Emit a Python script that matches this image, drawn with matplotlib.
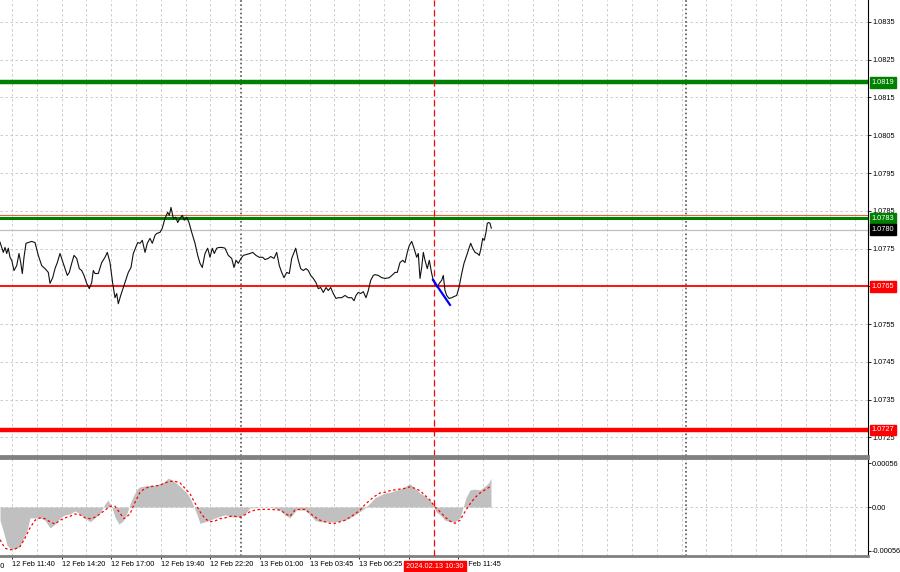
import numpy as np
import matplotlib.pyplot as plt
from matplotlib import transforms

# Pozycje na osi czasu (kolumny wykresu, dzien 13 Feb zaczyna sie w 241) i ceny EURUSD
price_x = [0, 3.3, 5, 6.7, 8.3, 10, 11.7, 14, 16.7, 19, 20.7, 22.3, 24, 26, 28.3, 31.7, 35,
           38.3, 41.7, 45, 48.3, 50, 52.7, 55, 57.3, 60, 62.3, 65, 67.3, 69.3, 71.7, 74, 76.7,
           79.3, 81.7, 84, 86.7, 89.3, 91.7, 93.3, 95, 98.3, 101.7, 105, 107.3, 110, 112.7,
           115, 116.7, 118.3, 120.7, 123.3, 125, 128.3, 131, 133.3, 135.7, 137.7, 140, 142.3,
           145, 147.3, 150, 152.3, 155, 156.7, 160, 162.3, 165, 167.7, 169.3, 171, 173.3,
           175.7, 177.7, 180, 182.3, 184.3, 186.7, 189, 191.7, 195, 197.7, 200, 202.3, 205,
           207.7, 210, 212.3, 214.3, 216.7, 219, 222.3, 225, 228.3, 231.7, 234, 236, 238.3,
           241, 243.3, 250, 252.7, 256, 259.3, 262.7, 265, 268.3, 270.7, 274, 276.7, 279.3,
           281.7, 284, 286.7, 289.3, 291.7, 294, 295.7, 298.3, 300.7, 303.3, 306, 308.3,
           310.7, 313.3, 316, 318.3, 320.7, 323.3, 326, 328.3, 330.7, 333.3, 336, 338.3,
           341.7, 345, 348.3, 351.7, 354, 356, 358.3, 360.7, 363.3, 366, 368.3, 370.7, 373.3,
           375, 378.3, 381.7, 385, 389.3, 392.7, 395, 397.3, 400, 402.7, 405, 407.3, 409.3,
           411.7, 414, 416.7, 418.3, 420, 421.7, 423.3, 425, 427.3, 429.3, 431.7, 433.3, 435,
           437.3, 439.3, 441.7, 443.3, 445, 446.7, 449, 451.7, 454, 456.7, 459, 461.7, 464,
           466.7, 469, 470.7, 472.7, 475, 477.3, 479.3, 481, 482.7, 484.3, 486, 487.3, 488.7,
           490, 491.3]
price = [1.07767, 1.0774, 1.07753, 1.07737, 1.07751, 1.07727, 1.07719, 1.07692, 1.07705,
         1.07737, 1.07713, 1.07684, 1.07727, 1.07764, 1.07766, 1.07769, 1.07766, 1.07732,
         1.07705, 1.07697, 1.07687, 1.07658, 1.07673, 1.07697, 1.07713, 1.07737, 1.07719,
         1.07697, 1.07679, 1.07687, 1.07711, 1.07732, 1.07724, 1.07697, 1.07692, 1.07679,
         1.07658, 1.07644, 1.0766, 1.07692, 1.07684, 1.07684, 1.07713, 1.07727, 1.0774,
         1.07713, 1.07658, 1.0762, 1.07631, 1.07604, 1.07626, 1.07647, 1.0766, 1.07687,
         1.077, 1.07737, 1.07753, 1.07766, 1.07764, 1.07772, 1.0774, 1.07764, 1.07777,
         1.07764, 1.07785, 1.0779, 1.07793, 1.07804, 1.0783, 1.07846, 1.07838, 1.07859,
         1.0783, 1.07833, 1.07819, 1.0783, 1.07838, 1.07825, 1.07833, 1.07819, 1.07793,
         1.07764, 1.07732, 1.07711, 1.077, 1.07737, 1.07751, 1.07727, 1.07751, 1.07737,
         1.07751, 1.07753, 1.07753, 1.07751, 1.07732, 1.07724, 1.077, 1.07719, 1.07711,
         1.07724, 1.07732, 1.07737, 1.0774, 1.07732, 1.07727, 1.07727, 1.07721, 1.07724,
         1.07729, 1.07724, 1.0774, 1.07705, 1.07687, 1.07673, 1.07687, 1.07684, 1.07724,
         1.0774, 1.07751, 1.07719, 1.07697, 1.07692, 1.07697, 1.07692, 1.07679, 1.07671,
         1.0766, 1.07644, 1.07647, 1.07634, 1.07647, 1.07639, 1.07647, 1.07631, 1.07618,
         1.0762, 1.0762, 1.07626, 1.0762, 1.0762, 1.07612, 1.07626, 1.07634, 1.07631,
         1.07636, 1.0762, 1.07639, 1.07666, 1.07679, 1.07681, 1.07679, 1.07673, 1.07671,
         1.07673, 1.07681, 1.07687, 1.07687, 1.07713, 1.07719, 1.07713, 1.0774, 1.07758,
         1.07769, 1.07751, 1.07727, 1.07737, 1.07671, 1.077, 1.0774, 1.07719, 1.07697,
         1.07719, 1.07684, 1.07666, 1.07658, 1.07647, 1.07658, 1.07666, 1.07679, 1.07639,
         1.07626, 1.07618, 1.0762, 1.07623, 1.07626, 1.07647, 1.07684, 1.07711, 1.07732,
         1.07751, 1.07764, 1.07751, 1.0774, 1.07737, 1.07732, 1.07751, 1.07777, 1.07772,
         1.07793, 1.07817, 1.07819, 1.07817, 1.07804]

# MACD: histogram i linia sygnalu
hist_x = [0, 3, 7, 10, 13, 17, 20, 23, 27, 30, 35, 40, 45, 50, 55, 60, 65, 70, 75, 80, 85,
          90, 95, 100, 105, 108, 112, 115, 119, 123, 127, 130, 133, 137, 140, 145, 150, 155,
          160, 165, 168, 172, 177, 182, 187, 191, 194, 197, 200, 205, 210, 215, 220, 225,
          230, 235, 240, 245, 250, 255, 260, 265, 270, 280, 285, 290, 293, 297, 300, 305,
          310, 315, 320, 325, 330, 335, 340, 345, 350, 355, 360, 365, 370, 375, 380, 385,
          390, 395, 400, 405, 410, 413, 417, 420, 425, 430, 433, 436, 440, 445, 450, 455,
          460, 463, 466, 470, 475, 480, 484, 488, 491]
macd_hist = [-0.00017, -0.0003, -0.00049, -0.00053, -0.00054, -0.00053, -0.0005, -0.00042,
             -0.0003, -0.00014, -0.00014, -0.00014, -0.00017, -0.00027, -0.00022, -0.00014,
             -0.0001, -0.00009, -0.00005, -0.00009, -0.00014, -0.00019, -0.00014, -0.00008,
             0.00004, 0.00009, -0.00001, -0.00013, -0.00022, -0.00018, -0.00008, 0.00004,
             0.00013, 0.00023, 0.00026, 0.00027, 0.00028, 0.00028, 0.0003, 0.00033, 0.00037,
             0.00035, 0.0003, 0.00024, 0.00018, 0.00009, 0.0, -0.0001, -0.00021, -0.00019,
             -0.00017, -0.00014, -0.00012, -0.0001, -0.00012, -0.00013, -0.00012, -0.00009,
             -0.00001, -0.00001, 0.0, 0.0, 0.0, -0.00004, -0.0001, -0.00014, -0.00009,
             -0.00003, -0.00004, -0.00004, -0.0001, -0.00017, -0.00019, -0.00019, -0.00019,
             -0.00019, -0.00018, -0.00017, -0.00014, -0.0001, -0.00006, -0.00001, 0.00005,
             0.00012, 0.00015, 0.00018, 0.00019, 0.00021, 0.00023, 0.00026, 0.0003, 0.00026,
             0.00022, 0.00018, 0.00014, 0.00009, 0.00003, -0.00006, -0.0001, -0.00017,
             -0.00019, -0.00019, -0.00014, -0.00001, 0.00012, 0.00022, 0.00023, 0.00022,
             0.00026, 0.0003, 0.00037]
sig_x = [0, 5, 10, 15, 20, 25, 30, 35, 40, 45, 50, 55, 60, 65, 70, 75, 80, 85, 90, 95, 100,
         105, 110, 115, 120, 124, 130, 135, 140, 145, 150, 155, 160, 165, 170, 175, 180, 185,
         190, 195, 200, 205, 210, 215, 220, 225, 230, 235, 240, 245, 250, 255, 260, 270, 280,
         285, 290, 295, 300, 305, 310, 315, 320, 325, 330, 335, 340, 345, 350, 355, 360, 365,
         370, 375, 380, 385, 390, 395, 400, 405, 410, 415, 420, 425, 430, 435, 440, 445, 450,
         455, 460, 465, 470, 475, 480, 485, 490]
macd_signal = [-0.00042, -0.00053, -0.00055, -0.00054, -0.00051, -0.0004, -0.00027, -0.00017,
               -0.00014, -0.00015, -0.00019, -0.00022, -0.00017, -0.00014, -0.00012, -0.00009,
               -0.0001, -0.00014, -0.00015, -0.00013, -0.00009, -0.00004, 0.00001, 0.00001,
               -0.00008, -0.00015, -0.00009, 0.00006, 0.00019, 0.00024, 0.00026, 0.00027,
               0.00028, 0.00031, 0.00033, 0.00033, 0.00031, 0.00024, 0.00017, 0.00005,
               -0.00006, -0.00015, -0.00019, -0.00018, -0.00015, -0.00014, -0.00012, -0.00012,
               -0.00013, -0.0001, -0.00006, -0.00004, -0.00003, -0.00003, -0.00004, -0.00008,
               -0.00012, -0.00004, -0.00003, -0.00003, -0.00008, -0.00013, -0.00017, -0.00019,
               -0.00021, -0.00021, -0.00019, -0.00017, -0.00013, -0.00009, -0.00004, 0.00003,
               0.00009, 0.00014, 0.00018, 0.00019, 0.00021, 0.00022, 0.00023, 0.00024, 0.00026,
               0.00024, 0.00021, 0.00015, 0.00009, 0.0, -0.00006, -0.00013, -0.00018, -0.00021,
               -0.00017, -0.00006, 0.00004, 0.00012, 0.00018, 0.00022, 0.00026]

# Poziomy i znaczniki
green_levels = [1.0819, 1.0783]
red_levels = [1.0765, 1.0727]
last_price = 1.0780
ask_price = 1.07840
arrow_x = [433, 450]
arrow_y = [1.07667, 1.07601]
day_breaks = [241, 686]
cursor_x = 434
cursor_label = '2024.02.13 10:30'
# podpis 13 Feb 09:05 jest zasloniety przez etykiete kursora
time_labels = ['12 Feb 11:40', '12 Feb 14:20', '12 Feb 17:00', '12 Feb 19:40',
               '12 Feb 22:20', '13 Feb 01:00', '13 Feb 03:45', '13 Feb 06:25',
               '', '13 Feb 11:45']

plt.rcParams['font.family'] = ['Liberation Sans', 'DejaVu Sans']
FS = 5.3
GRID = dict(color='#c4c4c4', lw=0.6, ls=(0, (3, 3)), zorder=0)

fig = plt.figure(figsize=(9, 5.72), dpi=100)
W = 868 / 900
ax = fig.add_axes([0, 1 - 456 / 572, W, 456 / 572])
axm = fig.add_axes([0, 1 - 556 / 572, W, 98 / 572])

grid_x = 12 + 24.8 * np.arange(36)

# --- panel glowny ---
ax.set_xlim(0, 868)
ax.set_ylim(1.07201, 1.08408)
yt = np.round(np.arange(1.0725, 1.0836, 0.001), 4)
for v in yt:
    ax.axhline(v, **GRID)
for gx in grid_x:
    ax.axvline(gx, **GRID)
for d in day_breaks:
    ax.axvline(d, color='#555555', lw=1.2, ls=(0, (1, 1.5)), zorder=1)

ax.axhline(last_price, color='#c0c0c0', lw=0.9, zorder=1)
ax.axhline(ask_price, color='#e8603c', lw=0.8, zorder=1)
ax.axhline(green_levels[0], color='#008000', lw=3.2, zorder=2)
ax.axhline(green_levels[1], color='#008000', lw=2.2, zorder=2)
ax.axhline(red_levels[0], color='#ff0000', lw=1.3, zorder=2)
ax.axhline(red_levels[1], color='#ff0000', lw=3.2, zorder=2)
ax.axvline(cursor_x, color='#ff0000', lw=0.9, ls=(0, (5, 3)), zorder=2)

ax.plot(price_x, price, color='#111111', lw=0.8, zorder=3)
ax.plot(arrow_x, arrow_y, color='#0000ff', lw=1.6, zorder=4)

ax.yaxis.tick_right()
ax.set_yticks(yt, [f'{v:.4f}' for v in yt])
ax.tick_params(axis='y', direction='out', length=2, width=0.6, labelsize=FS, pad=1)
ax.tick_params(axis='x', bottom=False, labelbottom=False)
for s in ['top', 'left']:
    ax.spines[s].set_visible(False)
ax.spines['right'].set_color('black')
ax.spines['bottom'].set_color('#808080')
ax.spines['bottom'].set_linewidth(2)

trans = transforms.blended_transform_factory(ax.transAxes, ax.transData)
boxes = [(green_levels[0], '#008000'), (green_levels[1], '#008000'),
         (last_price, 'black'), (red_levels[0], '#ff0000'), (red_levels[1], '#ff0000')]
for v, c in boxes:
    ax.text(1.004, v, f'{v:.4f}', transform=trans, ha='left', va='center', fontsize=FS,
            color='white', clip_on=False, zorder=10,
            bbox=dict(boxstyle='square,pad=0.25', fc=c, ec=c))

# --- panel MACD ---
axm.set_xlim(0, 868)
axm.set_ylim(-0.00063, 0.00063)
axm.axhline(0, **GRID)
for gx in grid_x:
    axm.axvline(gx, **GRID)
for d in day_breaks:
    axm.axvline(d, color='#555555', lw=1.2, ls=(0, (1, 1.5)), zorder=1)
axm.fill_between(hist_x, 0, macd_hist, color='#c0c0c0', lw=0, zorder=2)
axm.plot(sig_x, macd_signal, color='#ff0000', lw=0.9, ls=(0, (2, 2)), zorder=3)
axm.axvline(cursor_x, color='#ff0000', lw=0.9, ls=(0, (5, 3)), zorder=4)

axm.yaxis.tick_right()
axm.set_yticks([0.00056, 0, -0.00056], ['0.00056', '0.00', '-0.00056'])
axm.tick_params(axis='y', direction='out', length=2, width=0.6, labelsize=FS, pad=1)
axm.set_xticks(grid_x[0:20:2], time_labels)
axm.tick_params(axis='x', direction='out', length=2.5, width=0.6, labelsize=FS, pad=1)
for lab in axm.get_xticklabels():
    lab.set_ha('left')
axm.spines['left'].set_visible(False)
axm.spines['right'].set_color('black')
for s in ['top', 'bottom']:
    axm.spines[s].set_color('#808080')
    axm.spines[s].set_linewidth(2)

# obciety podpis z lewej krawedzi
axm.text(4.5, -0.00072, '12 Feb 09:00', ha='right', va='top', fontsize=FS, clip_on=False)
axm.text(cursor_x + 1, -0.00072, cursor_label, ha='center', va='top', fontsize=FS,
         color='white', clip_on=False, zorder=10,
         bbox=dict(boxstyle='square,pad=0.3', fc='#ff0000', ec='#ff0000'))

fig.savefig('out.png', dpi=100, facecolor='white')
